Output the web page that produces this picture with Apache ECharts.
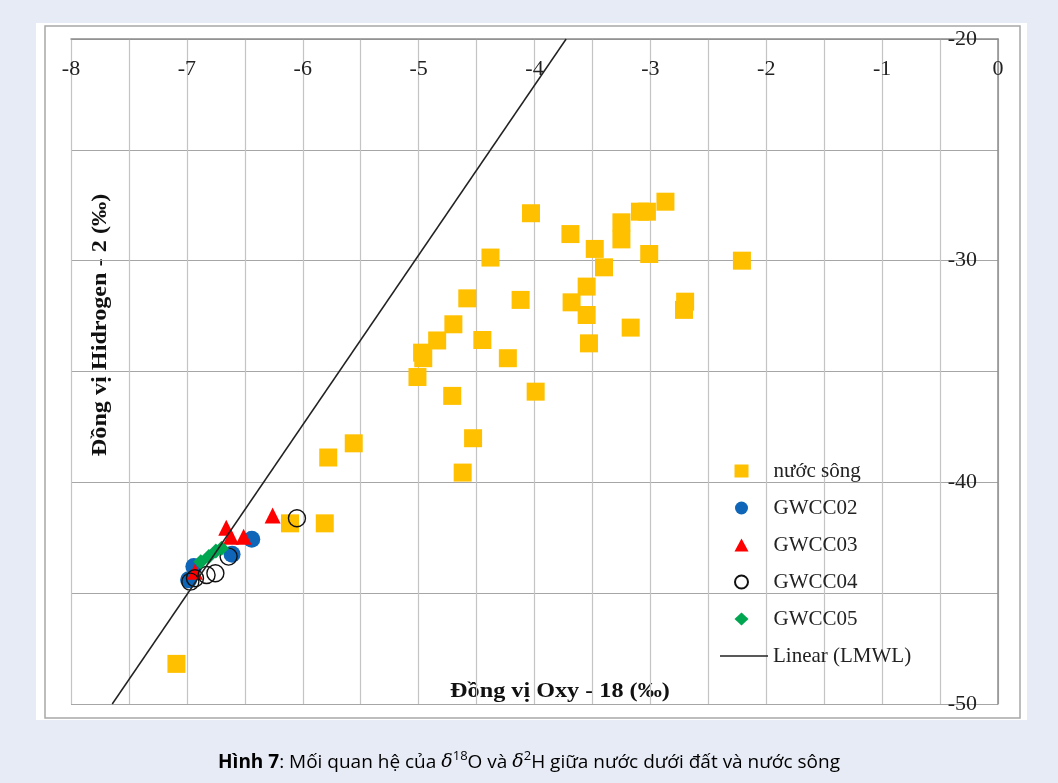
<!DOCTYPE html>
<html>
<head>
<meta charset="utf-8">
<script src="https://cdn.jsdelivr.net/npm/echarts@6/dist/echarts.min.js"></script>
<style>
html,body{margin:0;padding:0;background:#e7ebf5;}
#chart{width:1058px;height:783px;}
</style>
</head>
<body>
<div id="chart"></div>
<script>
// ---- data ----
const riverX = [-4.03,-3.69,-3.48,-3.25,-3.25,-3.09,-3.03,-2.87,-3.01,-2.21,-3.40,-4.38,-3.55,-3.68,-3.55,-4.12,-4.58,-2.70,-2.71,-3.17,-3.53,-4.70,-4.84,-4.45,-4.97,-4.96,-4.23,-5.01,-4.71,-3.99,-4.53,-5.56,-5.78,-4.62,-6.11,-5.81,-7.09];
const riverY = [-27.86,-28.80,-29.47,-28.27,-29.04,-27.79,-27.79,-27.34,-29.70,-30.00,-30.30,-29.86,-31.17,-31.88,-32.45,-31.77,-31.70,-31.85,-32.22,-33.02,-33.73,-32.87,-33.60,-33.58,-34.15,-34.40,-34.40,-35.25,-36.10,-35.91,-38.01,-38.24,-38.88,-39.56,-41.85,-41.85,-48.19];
const gw02X = [-6.44,-6.61,-6.94,-6.985];
const gw02Y = [-42.57,-43.24,-43.80,-44.40];
const gw03X = [-6.26,-6.66,-6.62,-6.51,-6.93];
const gw03Y = [-41.50,-42.05,-42.45,-42.45,-44.03];
const gw04X = [-6.05,-6.64,-6.754,-6.83,-6.93,-6.97];
const gw04Y = [-41.62,-43.35,-44.10,-44.18,-44.33,-44.48];
const gw05X = [-6.70,-6.75,-6.81,-6.88];
const gw05Y = [-42.97,-43.10,-43.35,-43.58];
const lmwlX = [-7.644,-3.727];
const lmwlY = [-50,-20];
const seriesNames = ['nước sông','GWCC02','GWCC03','GWCC04','GWCC05','Linear (LMWL)'];
const xTitle = 'Đồng vị Oxy - 18 (‰)';
const yTitle = 'Đồng vị Hidrogen - 2 (‰)';

const pairs = (xs, ys) => xs.map((x, i) => [x, ys[i]]);
const serif = '"Liberation Serif","Times New Roman",serif';
const legendText = {fontFamily: serif, fontSize: 21, color: '#222', lineHeight: 22};

const chart = echarts.init(document.getElementById('chart'), null, {renderer: 'canvas'});
chart.setOption({
  backgroundColor: '#e7ebf5',
  animation: false,
  grid: {left: 71, top: 39, right: 60, bottom: 79, containLabel: false},
  xAxis: {
    type: 'value', min: -8, max: 0, interval: 0.5, position: 'top',
    axisLine: {show: true, lineStyle: {color: '#8c8c8c', width: 1.5}},
    axisTick: {show: false},
    splitLine: {show: true, lineStyle: {color: '#c4c4c4', width: 1.2}},
    axisLabel: {inside: true, margin: 19, fontFamily: serif, fontSize: 22, color: '#222',
      formatter: v => (Math.abs(v - Math.round(v)) < 1e-9 ? String(Math.round(v)) : '')}
  },
  yAxis: {
    type: 'value', min: -50, max: -20, interval: 5, position: 'right',
    axisLine: {show: true, lineStyle: {color: '#8c8c8c', width: 1.5}},
    axisTick: {show: false},
    splitLine: {show: true, lineStyle: {color: '#a6a6a6', width: 1.2}},
    axisLabel: {inside: true, margin: 21, fontFamily: serif, fontSize: 22, color: '#222',
      formatter: v => (v % 10 === 0 ? String(v) : '')}
  },
  legend: [
    {
      orient: 'vertical', left: 734, top: 460, padding: 0,
      itemWidth: 14, itemHeight: 13, itemGap: 15,
      textStyle: Object.assign({padding: [0, 0, 0, 20]}, legendText),
      data: seriesNames.slice(0, 5)
    },
    {
      orient: 'vertical', left: 720, top: 645, padding: 0,
      itemWidth: 48, itemHeight: 1.5,
      textStyle: legendText,
      data: [{name: seriesNames[5], icon: 'rect', itemStyle: {color: '#222'}}]
    }
  ],
  graphic: [
    {type: 'rect', z: -10, shape: {x: 36, y: 23, width: 991, height: 697}, style: {fill: '#ffffff'}},
    {type: 'rect', z: -9, shape: {x: 45, y: 26, width: 975, height: 692}, style: {fill: 'none', stroke: '#a8a8a8', lineWidth: 1.5}},
    {type: 'text', x: 560, y: 691, scaleX: 1.1, style: {text: xTitle, font: 'bold 22px ' + serif, fill: '#111', align: 'center', verticalAlign: 'middle'}},
    {type: 'text', x: 100, y: 325, rotation: Math.PI / 2, scaleX: 1.1, style: {text: yTitle, font: 'bold 22px ' + serif, fill: '#111', align: 'center', verticalAlign: 'middle'}},
    {type: 'text', x: 529, y: 761, style: {
      text: '{b|Hình 7}{n|: Mối quan hệ của }{d|δ}{s|18}{n|O và }{d|δ}{s|2}{n|H giữa nước dưới đất và nước sông}',
      align: 'center', verticalAlign: 'middle',
      rich: {
        b: {fontFamily: 'Open Sans', fontWeight: 'bold', fontSize: 19, color: '#1b7f2c', lineHeight: 22, verticalAlign: 'bottom'},
        n: {fontFamily: 'Open Sans', fontSize: 19, color: '#2b2b2b', lineHeight: 22, verticalAlign: 'bottom'},
        d: {fontFamily: '"DejaVu Serif",serif', fontStyle: 'italic', fontSize: 19, color: '#2b2b2b', lineHeight: 22, verticalAlign: 'bottom'},
        s: {fontFamily: 'Open Sans', fontSize: 13, color: '#2b2b2b', lineHeight: 13, verticalAlign: 'top'}
      }
    }}
  ],
  series: [
    {name: seriesNames[0], type: 'scatter', symbol: 'rect', symbolSize: 18, z: 3,
      itemStyle: {color: '#ffc000', opacity: 1}, data: pairs(riverX, riverY)},
    {name: seriesNames[1], type: 'scatter', symbol: 'circle', symbolSize: 17, z: 4,
      itemStyle: {color: '#0f66b8', opacity: 1}, data: pairs(gw02X, gw02Y)},
    {name: seriesNames[2], type: 'scatter', symbol: 'triangle', symbolSize: 16, z: 5,
      itemStyle: {color: '#ff0000', opacity: 1}, data: pairs(gw03X, gw03Y)},
    {name: seriesNames[3], type: 'scatter', symbol: 'circle', symbolSize: 17, z: 6,
      itemStyle: {color: 'rgba(255,255,255,0)', borderColor: '#111', borderWidth: 1.4, opacity: 1}, data: pairs(gw04X, gw04Y)},
    {name: seriesNames[4], type: 'scatter', symbol: 'diamond', symbolSize: 15, z: 7,
      itemStyle: {color: '#00a650', opacity: 1}, data: pairs(gw05X, gw05Y)},
    {name: seriesNames[5], type: 'line', symbol: 'none', z: 8, clip: true,
      lineStyle: {color: '#222', width: 1.5}, itemStyle: {color: '#222'}, data: pairs(lmwlX, lmwlY)}
  ]
});
</script>
</body>
</html>
